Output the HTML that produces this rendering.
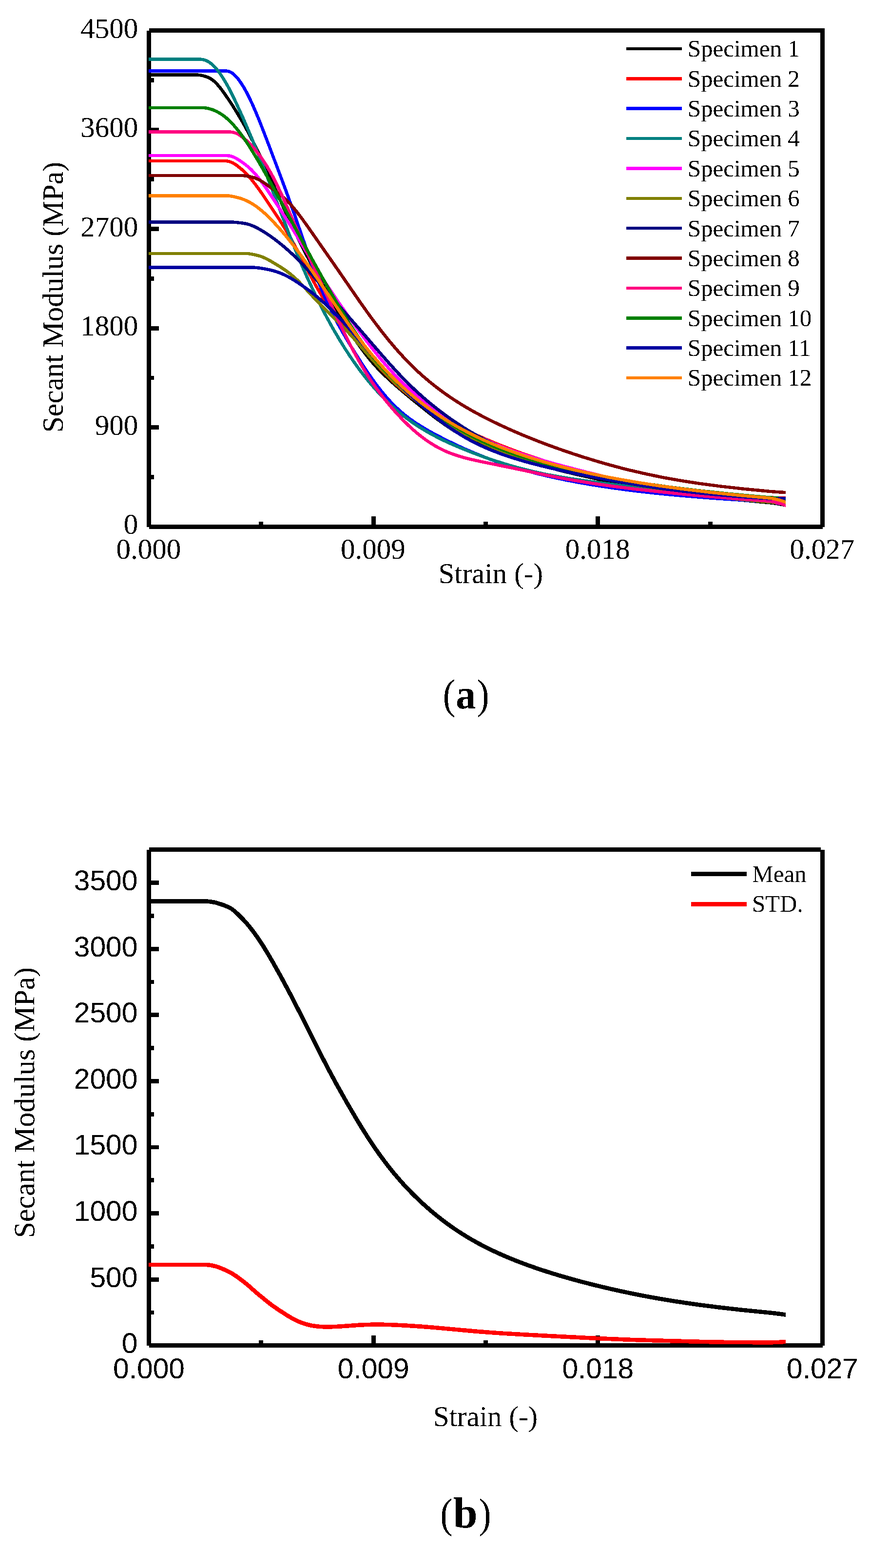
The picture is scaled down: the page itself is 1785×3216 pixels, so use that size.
<!DOCTYPE html>
<html lang="en">
<head>
<meta charset="utf-8">
<title>Secant modulus versus strain</title>
<style>
html,body{margin:0;padding:0;background:#fff;}
body{width:1785px;height:3216px;overflow:hidden;}
svg{display:block;}
</style>
</head>
<body>
<svg width="1785" height="3216" viewBox="0 0 1785 3216" shape-rendering="crispEdges" text-rendering="geometricPrecision">
<defs><filter id="bin" x="-5%" y="-20%" width="110%" height="140%" color-interpolation-filters="sRGB"><feComponentTransfer><feFuncA type="discrete" tableValues="0 1"/></feComponentTransfer></filter></defs>
<rect x="0" y="0" width="1785" height="3216" fill="#fff"/>
<g id="axes-a">
<rect x="301.10" y="62.50" width="8.80" height="1018.30" fill="#000"/>
<rect x="305.50" y="58.10" width="1386.40" height="8.80" fill="#000"/>
<rect x="1683.10" y="58.10" width="8.80" height="1022.70" fill="#000"/>
<rect x="305.50" y="1075.90" width="1382.30" height="8.80" fill="#000"/>
<rect x="305.50" y="1075.90" width="20.50" height="8.80" fill="#000"/>
<text x="283.30" y="1095.30" font-family='"Liberation Serif", "DejaVu Serif", serif' font-size="59.0" text-anchor="end" font-weight="normal" filter="url(#bin)" >0</text>
<rect x="305.50" y="974.12" width="10.50" height="8.80" fill="#000"/>
<rect x="305.50" y="872.34" width="20.50" height="8.80" fill="#000"/>
<text x="283.30" y="891.74" font-family='"Liberation Serif", "DejaVu Serif", serif' font-size="59.0" text-anchor="end" font-weight="normal" filter="url(#bin)" >900</text>
<rect x="305.50" y="770.56" width="10.50" height="8.80" fill="#000"/>
<rect x="305.50" y="668.78" width="20.50" height="8.80" fill="#000"/>
<text x="283.30" y="688.18" font-family='"Liberation Serif", "DejaVu Serif", serif' font-size="59.0" text-anchor="end" font-weight="normal" filter="url(#bin)" >1800</text>
<rect x="305.50" y="567.00" width="10.50" height="8.80" fill="#000"/>
<rect x="305.50" y="465.22" width="20.50" height="8.80" fill="#000"/>
<text x="283.30" y="484.62" font-family='"Liberation Serif", "DejaVu Serif", serif' font-size="59.0" text-anchor="end" font-weight="normal" filter="url(#bin)" >2700</text>
<rect x="305.50" y="363.44" width="10.50" height="8.80" fill="#000"/>
<rect x="305.50" y="261.66" width="20.50" height="8.80" fill="#000"/>
<text x="283.30" y="281.06" font-family='"Liberation Serif", "DejaVu Serif", serif' font-size="59.0" text-anchor="end" font-weight="normal" filter="url(#bin)" >3600</text>
<rect x="305.50" y="159.88" width="10.50" height="8.80" fill="#000"/>
<rect x="305.50" y="58.10" width="20.50" height="8.80" fill="#000"/>
<text x="283.30" y="77.50" font-family='"Liberation Serif", "DejaVu Serif", serif' font-size="59.0" text-anchor="end" font-weight="normal" filter="url(#bin)" >4500</text>
<rect x="301.10" y="1059.30" width="8.80" height="21.00" fill="#000"/>
<text x="304.80" y="1146.00" font-family='"Liberation Serif", "DejaVu Serif", serif' font-size="59.0" text-anchor="middle" font-weight="normal" filter="url(#bin)" >0.000</text>
<rect x="531.43" y="1069.80" width="8.80" height="10.50" fill="#000"/>
<rect x="761.77" y="1059.30" width="8.80" height="21.00" fill="#000"/>
<text x="765.47" y="1146.00" font-family='"Liberation Serif", "DejaVu Serif", serif' font-size="59.0" text-anchor="middle" font-weight="normal" filter="url(#bin)" >0.009</text>
<rect x="992.10" y="1069.80" width="8.80" height="10.50" fill="#000"/>
<rect x="1222.43" y="1059.30" width="8.80" height="21.00" fill="#000"/>
<text x="1226.13" y="1146.00" font-family='"Liberation Serif", "DejaVu Serif", serif' font-size="59.0" text-anchor="middle" font-weight="normal" filter="url(#bin)" >0.018</text>
<rect x="1452.77" y="1069.80" width="8.80" height="10.50" fill="#000"/>
<rect x="1683.10" y="1059.30" width="8.80" height="21.00" fill="#000"/>
<text x="1686.80" y="1146.00" font-family='"Liberation Serif", "DejaVu Serif", serif' font-size="59.0" text-anchor="middle" font-weight="normal" filter="url(#bin)" >0.027</text>
</g>
<g id="curves-a">
<path d="M305.0,156.8 404.8,156.7 409.5,157.2 415.2,158.4 421.0,160.0 425.7,161.8 430.4,164.2 434.1,166.6 437.8,169.7 441.7,173.4 446.5,178.8 452.4,186.2 459.3,195.8 467.3,207.5 475.3,219.6 483.2,232.4 490.2,244.0 498.2,257.8 505.1,270.5 519.1,297.3 534.1,328.1 549.0,360.5 578.0,425.5 591.1,454.1 605.1,483.7 619.1,511.6 632.1,536.3 646.2,562.0 664.2,594.2 687.2,634.8 698.2,653.8 708.2,670.5 717.3,685.0 726.3,698.9 734.3,710.6 742.4,721.7 750.5,732.1 757.5,740.8 765.6,750.1 773.6,758.8 782.7,768.0 792.8,777.7 805.8,789.7 820.9,802.7 837.9,817.0 861.0,835.7 876.0,847.7 890.0,858.5 903.1,868.1 916.2,877.2 929.3,885.8 941.3,893.2 953.4,900.1 965.5,906.6 977.6,912.5 990.7,918.5 1003.8,923.9 1017.9,929.4 1032.9,934.8 1050.0,940.5 1068.1,946.1 1087.1,951.7 1109.1,957.8 1134.2,964.4 1158.2,970.5 1182.3,976.3 1225.3,985.9 1268.4,994.5 1312.5,1002.3 1358.5,1009.6 1408.6,1016.5 1461.6,1022.9 1514.7,1028.5 1583.6,1034.8 1597.4,1036.9 1611.6,1039.7 1611.6,1033.4 1598.6,1030.5 1584.4,1028.4 1515.3,1022.0 1462.4,1016.4 1409.4,1010.1 1359.5,1003.2 1313.5,995.9 1269.6,988.1 1226.7,979.5 1183.7,969.9 1159.8,964.2 1135.8,958.1 1110.9,951.5 1088.9,945.4 1069.9,939.9 1052.0,934.3 1035.1,928.6 1020.1,923.3 1006.2,917.9 993.3,912.5 980.4,906.7 968.5,900.8 956.6,894.5 944.7,887.6 932.7,880.3 919.8,871.8 906.9,862.8 894.0,853.3 880.0,842.6 865.0,830.7 842.1,812.0 825.1,797.8 810.2,784.8 797.2,773.0 787.3,763.4 778.4,754.3 770.4,745.7 762.5,736.6 755.5,728.1 747.6,717.8 739.7,706.8 731.7,695.2 722.7,681.5 713.8,667.1 703.8,650.5 692.8,631.6 669.8,591.0 651.8,558.8 637.9,533.2 624.9,508.6 610.9,480.8 596.9,451.4 584.0,422.9 555.0,357.8 539.9,325.3 524.9,294.4 510.9,267.4 503.8,254.6 495.8,240.7 488.8,229.0 480.7,216.1 472.7,203.8 464.7,192.1 457.6,182.3 451.5,174.6 446.3,168.9 442.2,164.8 437.9,161.4 433.6,158.5 428.3,155.8 423.0,153.8 416.8,152.1 410.5,150.8 405.2,150.3 305.0,150.2Z" fill="#000000"/>
<path d="M305.0,333.2 463.8,333.3 466.4,333.7 470.1,334.6 472.8,335.5 476.5,337.3 480.3,339.4 484.1,342.0 491.9,348.2 498.7,354.4 506.6,362.5 513.5,370.4 521.4,380.3 529.4,391.1 537.3,402.4 563.3,441.3 573.3,456.8 581.2,469.5 589.2,482.8 597.2,496.6 609.1,518.6 631.1,561.0 640.1,578.1 649.2,594.4 658.2,609.8 668.3,625.5 678.4,639.9 689.4,654.5 703.5,671.8 752.5,729.4 773.6,753.3 784.6,765.2 795.7,776.5 805.8,786.4 815.8,795.6 827.9,806.0 840.0,815.7 853.1,825.5 866.2,834.6 880.3,843.8 895.3,853.1 911.4,862.5 928.5,871.8 944.5,880.1 960.6,887.9 977.7,895.9 995.7,903.9 1013.8,911.5 1032.8,919.1 1051.9,926.3 1070.9,933.2 1091.0,940.1 1111.0,946.7 1132.1,953.2 1153.1,959.4 1175.2,965.5 1197.2,971.3 1218.2,976.5 1239.3,981.4 1258.3,985.5 1278.4,989.6 1297.4,993.2 1317.5,996.7 1337.5,999.9 1358.5,1003.0 1379.6,1005.8 1400.6,1008.4 1425.7,1011.2 1452.7,1013.9 1480.7,1016.4 1511.8,1018.9 1579.8,1023.7 1595.9,1024.4 1611.6,1024.8 1611.6,1018.3 1596.1,1017.9 1580.2,1017.2 1512.2,1012.4 1481.3,1009.9 1453.3,1007.4 1426.3,1004.7 1401.4,1001.9 1380.4,999.4 1359.5,996.6 1338.5,993.5 1318.5,990.3 1298.6,986.8 1279.6,983.2 1259.7,979.2 1240.7,975.0 1219.8,970.2 1198.8,965.0 1176.8,959.2 1154.9,953.1 1133.9,947.0 1113.0,940.5 1093.0,933.9 1073.1,927.1 1054.1,920.2 1035.2,913.0 1016.2,905.4 998.3,897.9 980.3,890.0 963.4,882.1 947.5,874.3 931.5,866.0 914.6,856.8 898.7,847.6 883.7,838.4 869.8,829.2 856.9,820.2 844.0,810.5 832.1,801.0 820.2,790.8 810.2,781.6 800.3,772.0 789.4,760.7 778.4,748.9 757.5,725.1 708.5,667.7 694.6,650.5 683.6,636.1 673.7,621.9 663.8,606.4 654.8,591.2 645.9,575.0 636.9,558.0 614.9,515.6 602.8,493.4 594.8,479.5 586.8,466.1 578.7,453.3 568.7,437.8 542.7,398.8 534.6,387.3 526.6,376.4 518.5,366.2 511.4,358.1 503.3,349.7 496.1,343.2 487.9,336.7 483.7,333.9 479.5,331.5 475.2,329.5 471.9,328.4 467.6,327.3 464.2,326.9 305.0,326.8Z" fill="#ff0000"/>
<path d="M305.0,148.7 464.7,148.8 467.2,149.3 469.8,150.1 472.4,151.3 475.1,153.0 477.9,155.2 480.7,157.8 483.5,160.9 487.4,165.7 492.3,172.7 497.2,180.6 502.1,189.3 507.1,198.8 512.1,209.1 517.0,220.0 523.0,233.9 529.0,248.5 537.0,268.8 547.0,294.8 571.0,358.2 584.9,395.9 600.9,440.5 629.9,524.2 637.9,546.5 645.0,565.3 654.0,588.2 663.0,609.6 672.1,629.4 682.1,649.7 691.1,666.8 701.2,684.8 712.2,703.6 724.2,723.2 738.3,745.3 750.3,763.6 761.4,779.6 772.4,794.7 782.5,807.5 791.6,818.1 800.6,828.1 809.7,837.2 818.9,845.6 828.0,853.2 838.1,861.0 849.2,868.8 862.3,877.3 876.4,885.7 892.5,894.6 910.5,903.9 929.6,913.3 948.7,922.1 967.7,930.4 986.8,938.2 1004.9,945.1 1022.9,951.5 1041.0,957.4 1060.1,963.3 1079.1,968.7 1099.2,974.0 1120.3,979.1 1141.3,983.8 1163.4,988.3 1186.4,992.7 1210.5,996.9 1235.5,1000.9 1261.6,1004.7 1287.6,1008.2 1314.6,1011.5 1342.7,1014.6 1373.7,1017.7 1406.7,1020.6 1441.7,1023.5 1478.8,1026.2 1525.8,1029.3 1576.8,1032.3 1593.9,1033.0 1611.6,1033.3 1611.6,1026.8 1594.1,1026.5 1577.2,1025.8 1526.2,1022.8 1479.2,1019.7 1442.3,1017.0 1407.3,1014.2 1374.3,1011.2 1343.3,1008.1 1315.4,1005.0 1288.4,1001.7 1262.4,998.3 1236.5,994.5 1211.5,990.5 1187.6,986.3 1164.6,982.0 1142.7,977.4 1121.7,972.7 1100.8,967.6 1080.9,962.4 1061.9,957.0 1043.0,951.2 1025.1,945.3 1007.1,939.0 989.2,932.2 970.3,924.4 951.3,916.2 932.4,907.4 913.5,898.1 895.5,888.8 879.6,880.1 865.7,871.8 852.8,863.5 841.9,855.8 832.0,848.2 823.1,840.7 814.3,832.5 805.4,823.6 796.4,813.8 787.5,803.3 777.6,790.8 766.6,775.9 755.7,760.0 743.7,741.8 729.8,719.8 717.8,700.2 706.8,681.5 696.9,663.7 687.9,646.7 677.9,626.6 669.0,607.0 660.0,585.8 651.0,563.0 644.1,544.3 636.1,522.1 607.1,438.3 591.1,393.7 577.0,355.9 553.0,292.5 543.0,266.4 535.0,246.1 529.0,231.4 523.0,217.4 517.9,206.3 512.9,195.9 507.9,186.2 502.8,177.2 497.7,169.1 492.6,161.8 488.5,156.7 485.3,153.3 482.1,150.3 478.9,147.7 475.6,145.6 472.2,144.0 468.8,142.9 465.3,142.4 305.0,142.3Z" fill="#0000ff"/>
<path d="M305.0,124.7 408.9,124.8 412.7,124.9 415.4,125.3 419.9,126.5 423.6,128.0 427.2,130.2 431.0,132.9 434.8,136.2 438.6,140.1 442.5,144.5 447.4,150.8 452.3,157.9 457.2,165.7 462.2,174.1 468.1,185.1 474.1,196.7 480.1,209.0 494.0,239.6 504.0,262.6 514.0,286.1 533.0,332.5 550.0,375.9 589.0,478.3 601.0,508.6 613.0,537.6 628.0,572.0 643.1,604.1 658.1,634.3 666.1,649.6 674.2,664.4 684.2,682.1 694.2,699.1 704.3,715.3 714.3,730.8 724.3,745.4 734.4,759.4 744.4,772.6 755.5,786.3 765.6,798.0 776.6,810.2 787.7,821.6 798.8,832.3 809.9,842.3 821.0,851.6 832.0,860.2 844.1,869.0 856.2,877.1 868.3,884.6 881.4,892.1 894.5,899.1 908.6,906.1 923.7,913.1 939.7,920.0 956.8,927.0 975.9,934.4 994.9,941.4 1014.0,947.9 1032.0,953.7 1050.1,959.1 1068.2,964.1 1086.2,968.6 1105.3,973.0 1120.4,976.2 1136.4,979.2 1153.5,982.2 1172.5,985.3 1214.6,991.4 1269.6,998.5 1383.6,1012.5 1448.6,1020.1 1503.7,1025.9 1539.7,1029.3 1585.7,1033.4 1611.6,1036.3 1611.6,1029.8 1586.3,1026.9 1540.3,1022.8 1504.3,1019.4 1449.4,1013.6 1384.4,1006.1 1270.4,992.0 1215.4,984.9 1173.5,978.9 1154.5,975.8 1137.6,972.8 1121.6,969.8 1106.7,966.7 1087.8,962.3 1069.8,957.8 1051.9,952.9 1034.0,947.5 1016.0,941.8 997.1,935.3 978.1,928.3 959.2,921.0 942.3,914.1 926.3,907.1 911.4,900.2 897.5,893.3 884.6,886.4 871.7,879.0 859.8,871.7 847.9,863.7 836.0,855.1 825.0,846.5 814.1,837.4 803.2,827.5 792.3,817.0 781.4,805.8 770.4,793.7 760.5,782.1 749.6,768.6 739.6,755.5 729.7,741.7 719.7,727.2 709.7,711.8 699.8,695.7 689.8,678.9 679.8,661.2 671.9,646.5 663.9,631.3 648.9,601.3 634.0,569.3 619.0,535.1 607.0,506.2 595.0,475.9 556.0,373.6 539.0,330.1 520.0,283.6 510.0,260.0 500.0,237.0 485.9,206.3 479.9,193.8 473.9,182.0 467.8,170.9 462.8,162.3 457.7,154.3 452.6,147.0 447.5,140.4 443.4,135.6 439.2,131.4 435.0,127.8 430.8,124.7 426.4,122.2 422.1,120.4 416.6,118.9 413.3,118.5 409.1,118.3 305.0,118.3Z" fill="#008080"/>
<path d="M305.0,322.2 461.9,322.2 468.6,322.6 472.3,323.2 475.9,324.3 479.6,325.8 483.4,327.9 489.2,331.5 496.1,336.2 502.0,340.6 506.9,344.6 511.8,349.0 515.7,352.8 523.5,361.5 532.4,372.7 543.3,387.9 563.3,417.7 586.3,453.4 605.2,483.9 637.2,536.9 651.2,559.8 666.3,583.5 681.3,606.3 693.3,624.0 706.3,642.6 720.4,662.2 734.4,681.4 747.4,698.8 758.4,713.2 769.5,727.2 779.5,739.4 789.6,751.2 799.6,762.4 809.7,773.1 818.7,782.3 828.8,792.0 838.8,801.2 848.9,810.0 859.9,819.3 872.0,828.8 884.1,838.0 897.1,847.4 910.2,856.4 923.2,865.0 936.3,873.2 949.4,881.0 962.4,888.4 974.5,894.9 987.6,901.4 1000.6,907.6 1013.7,913.4 1026.8,918.9 1039.9,923.9 1053.9,929.0 1069.0,934.1 1086.0,939.5 1104.1,945.0 1124.1,950.7 1146.2,956.8 1202.2,971.4 1227.2,977.5 1250.3,983.0 1287.3,991.2 1324.4,998.7 1361.4,1005.4 1398.5,1011.4 1439.6,1017.3 1483.6,1022.9 1526.7,1027.7 1584.6,1033.6 1597.4,1035.5 1611.6,1038.2 1611.6,1031.8 1598.6,1029.1 1585.4,1027.1 1527.3,1021.3 1484.4,1016.4 1440.4,1010.9 1399.5,1005.0 1362.6,999.0 1325.6,992.3 1288.7,984.8 1251.7,976.7 1228.8,971.2 1203.8,965.1 1147.8,950.5 1125.9,944.5 1105.9,938.7 1088.0,933.3 1071.0,927.9 1056.1,922.9 1042.1,917.8 1029.2,912.8 1016.3,907.5 1003.4,901.7 990.4,895.6 977.5,889.1 965.6,882.7 952.6,875.4 939.7,867.7 926.8,859.5 913.8,851.0 900.9,842.1 887.9,832.7 876.0,823.7 864.1,814.2 853.1,805.1 843.2,796.4 833.2,787.3 823.3,777.7 814.3,768.6 804.4,758.0 794.4,746.9 784.5,735.2 774.5,723.1 763.6,709.2 752.6,694.9 739.6,677.5 725.6,658.4 711.7,638.8 698.7,620.3 686.7,602.7 671.7,580.0 656.8,556.3 642.8,533.5 610.8,480.5 591.7,449.9 568.7,414.2 548.7,384.2 537.6,368.7 528.5,357.3 520.3,348.3 516.2,344.2 511.1,339.6 506.0,335.5 499.9,330.9 492.8,326.0 486.6,322.2 482.4,320.0 478.1,318.2 473.7,316.9 469.4,316.1 462.1,315.8 305.0,315.8Z" fill="#ff00ff"/>
<path d="M305.0,523.2 507.8,523.2 512.5,523.9 521.3,525.6 527.2,527.0 532.0,528.3 535.9,529.6 540.7,531.6 545.5,533.9 551.4,537.0 570.3,548.2 577.2,552.7 584.1,557.3 590.0,561.7 595.9,566.3 601.8,571.4 607.7,576.9 619.6,589.0 643.6,615.0 653.7,625.6 664.7,636.6 692.7,663.8 708.6,680.1 723.6,696.5 762.6,741.0 773.6,753.1 783.7,763.6 796.7,776.6 809.8,788.9 824.9,802.2 839.9,814.9 852.0,824.6 864.0,834.0 876.1,843.1 887.1,851.2 899.2,859.6 910.2,867.0 921.3,874.1 932.3,880.9 943.4,887.4 954.4,893.6 965.5,899.5 977.6,905.6 989.6,911.3 1001.7,916.8 1013.8,921.9 1026.8,927.2 1050.9,936.2 1077.0,944.9 1105.1,953.2 1135.2,961.3 1170.3,969.9 1210.3,978.9 1254.4,988.2 1296.4,996.4 1332.5,1002.8 1368.5,1008.6 1404.6,1013.9 1441.6,1018.8 1480.6,1023.5 1521.7,1027.8 1565.7,1031.9 1611.6,1035.7 1611.6,1029.3 1566.3,1025.4 1522.3,1021.3 1481.4,1017.0 1442.4,1012.4 1405.4,1007.5 1369.5,1002.2 1333.5,996.4 1297.6,990.0 1255.6,981.8 1211.7,972.6 1171.7,963.6 1136.8,955.0 1106.9,947.0 1079.0,938.7 1053.1,930.0 1029.2,921.1 1016.2,915.9 1004.3,910.8 992.4,905.4 980.4,899.7 968.5,893.7 957.6,887.9 946.6,881.8 935.7,875.4 924.7,868.6 913.8,861.6 902.8,854.2 890.9,845.9 879.9,837.9 868.0,828.9 856.0,819.5 844.1,809.9 829.1,797.3 814.2,784.1 801.3,771.9 788.3,759.1 778.4,748.7 767.4,736.7 728.4,692.2 713.4,675.7 697.3,659.2 669.3,632.0 658.3,621.0 648.4,610.6 624.4,584.5 612.3,572.2 606.2,566.5 600.1,561.3 594.0,556.5 587.9,552.0 580.8,547.2 573.7,542.7 554.6,531.3 548.5,528.1 543.3,525.6 538.1,523.5 534.0,522.1 528.8,520.7 522.7,519.3 513.5,517.5 508.2,516.8 305.0,516.8Z" fill="#808000"/>
<path d="M305.0,458.8 476.9,458.7 481.7,459.1 493.6,460.3 500.4,461.3 506.2,462.5 511.9,464.2 518.7,466.9 525.5,470.1 533.4,474.5 542.3,479.9 551.2,485.8 561.1,492.9 570.0,499.8 579.9,507.9 589.8,516.5 598.8,524.7 608.7,534.3 617.7,543.4 627.6,554.1 639.6,567.5 683.5,618.7 737.6,679.9 780.6,729.7 798.6,750.2 813.6,766.6 827.7,781.2 840.7,794.2 854.8,807.4 864.9,816.4 874.9,825.0 885.0,833.3 895.0,841.3 905.0,849.0 916.1,857.2 927.2,865.0 938.2,872.5 949.3,879.6 959.3,885.8 970.4,892.4 981.4,898.6 991.5,903.9 1002.6,909.5 1013.6,914.8 1024.7,919.7 1035.8,924.4 1047.8,929.1 1059.9,933.6 1072.0,937.7 1086.0,942.3 1100.1,946.6 1131.2,955.3 1173.2,966.0 1223.3,977.8 1264.3,986.7 1303.4,994.3 1337.5,1000.1 1372.5,1005.5 1407.6,1010.2 1444.7,1014.5 1494.7,1019.4 1550.7,1024.1 1585.8,1026.6 1598.9,1027.1 1611.6,1027.3 1611.6,1020.8 1599.1,1020.6 1586.2,1020.1 1551.3,1017.6 1495.3,1012.9 1445.3,1008.0 1408.4,1003.7 1373.5,999.1 1338.5,993.7 1304.6,987.9 1265.7,980.3 1224.7,971.4 1174.8,959.7 1132.8,949.0 1101.9,940.3 1088.0,936.1 1074.0,931.6 1062.1,927.4 1050.2,923.1 1038.2,918.4 1027.3,913.8 1016.4,908.9 1005.4,903.7 994.5,898.1 984.6,892.9 973.6,886.7 962.7,880.3 952.7,874.1 941.8,867.0 930.8,859.6 919.9,851.9 909.0,843.8 899.0,836.2 889.0,828.3 879.1,820.1 869.1,811.5 859.2,802.6 845.3,789.5 832.3,776.7 818.4,762.2 803.4,745.8 785.4,725.4 742.4,675.6 688.5,614.4 644.4,563.2 632.4,549.7 622.3,538.9 613.3,529.7 603.2,519.9 594.2,511.6 584.1,502.9 574.0,494.7 564.9,487.7 554.8,480.5 545.7,474.4 536.6,468.8 528.5,464.3 521.3,460.9 514.1,458.1 507.8,456.2 501.6,454.9 494.4,453.9 482.3,452.7 477.1,452.3 305.0,452.2Z" fill="#000080"/>
<path d="M305.0,363.2 495.9,363.2 499.7,363.5 507.5,364.6 514.3,365.9 520.0,367.5 525.7,369.6 530.5,371.9 536.3,375.3 542.2,379.2 553.1,387.0 563.1,394.3 571.0,400.3 577.9,406.1 583.8,411.4 589.7,417.2 595.6,423.6 601.5,430.5 607.4,437.8 617.4,450.9 630.3,469.0 684.3,546.3 734.3,618.9 748.4,638.7 760.4,655.3 777.4,677.9 794.5,699.4 811.6,719.5 827.6,737.1 836.7,746.5 846.7,756.5 855.8,765.0 865.9,774.1 875.9,782.7 886.0,790.9 896.0,798.8 907.1,807.0 918.2,814.8 929.2,822.2 940.3,829.3 952.3,836.7 964.4,843.7 977.5,850.9 990.5,857.8 1003.6,864.5 1018.6,871.8 1034.7,879.2 1051.7,886.9 1068.7,894.2 1085.8,901.2 1103.8,908.3 1121.9,915.2 1139.9,921.8 1158.9,928.4 1178.0,934.8 1197.0,941.0 1217.1,947.1 1236.1,952.8 1255.1,958.1 1274.2,963.2 1292.2,967.7 1326.3,975.6 1361.4,982.8 1397.5,989.2 1434.5,994.9 1478.6,1000.7 1526.7,1006.1 1579.7,1011.2 1595.8,1012.4 1611.6,1013.3 1611.6,1006.8 1596.2,1005.9 1580.3,1004.7 1527.3,999.6 1479.4,994.3 1435.5,988.5 1398.5,982.8 1362.6,976.4 1327.7,969.2 1293.8,961.4 1275.8,956.9 1256.9,951.8 1237.9,946.5 1218.9,940.9 1199.0,934.8 1180.0,928.7 1161.1,922.3 1142.1,915.6 1124.1,909.1 1106.2,902.3 1088.2,895.1 1071.3,888.2 1054.3,880.9 1037.3,873.3 1021.4,865.9 1006.4,858.6 993.5,852.1 980.5,845.2 967.6,838.0 955.7,831.1 943.7,823.8 932.8,816.8 921.8,809.4 910.9,801.7 900.0,793.6 890.0,785.9 880.1,777.7 870.1,769.2 860.2,760.3 851.3,751.8 841.3,742.0 832.4,732.7 816.4,715.2 799.5,695.2 782.6,673.9 765.6,651.4 753.6,634.9 739.7,615.1 689.7,542.6 635.7,465.3 622.6,447.1 612.6,433.8 606.5,426.3 600.4,419.2 594.3,412.7 588.2,406.7 582.1,401.2 575.0,395.3 566.9,389.1 556.9,381.7 545.8,373.9 539.7,369.8 533.5,366.2 528.3,363.7 522.0,361.3 515.7,359.6 508.5,358.2 500.3,357.1 496.1,356.8 305.0,356.8Z" fill="#800000"/>
<path d="M305.0,273.7 468.9,273.8 472.8,273.9 475.5,274.2 480.1,275.2 483.7,276.5 487.4,278.4 492.1,281.5 497.0,285.1 502.8,290.1 508.7,295.7 514.6,301.8 521.5,309.7 527.4,317.2 533.3,325.2 539.3,333.9 545.2,343.3 551.2,353.4 557.1,364.2 563.1,375.8 571.1,392.2 580.0,411.8 611.0,482.9 627.0,518.7 682.0,638.7 694.1,664.6 708.1,693.7 720.1,717.3 732.2,739.4 744.2,760.0 752.3,772.9 760.3,785.0 768.4,796.6 777.4,809.0 786.5,820.6 795.5,831.7 804.6,842.3 814.6,853.4 824.7,863.9 833.7,872.9 843.8,882.3 852.9,890.2 862.0,897.6 871.1,904.4 880.2,910.6 890.4,916.9 898.5,921.4 906.6,925.5 914.7,929.2 922.8,932.5 931.9,935.8 941.1,938.8 951.1,941.7 961.2,944.3 986.3,950.0 1041.3,961.1 1118.4,977.3 1151.4,983.7 1181.5,989.1 1218.5,995.1 1259.6,1000.9 1303.6,1006.4 1351.7,1011.7 1404.7,1017.0 1458.7,1021.9 1510.8,1026.1 1579.6,1031.1 1587.4,1032.4 1595.1,1034.3 1602.9,1036.8 1611.6,1039.9 1611.6,1033.9 1605.1,1030.7 1596.9,1028.0 1588.6,1026.0 1580.4,1024.7 1511.2,1019.6 1459.3,1015.4 1405.3,1010.5 1352.3,1005.2 1304.4,999.9 1260.4,994.4 1219.5,988.6 1182.5,982.7 1152.6,977.4 1119.6,970.9 1042.7,954.7 987.7,943.6 962.8,938.0 952.9,935.4 942.9,932.6 934.1,929.7 925.2,926.5 917.3,923.3 909.4,919.7 901.5,915.7 893.6,911.3 883.8,905.1 874.9,899.1 866.0,892.4 857.1,885.3 848.2,877.5 838.3,868.2 829.3,859.4 819.4,849.0 809.4,838.0 800.5,827.6 791.5,816.6 782.6,805.0 773.6,792.8 765.7,781.4 757.7,769.3 749.8,756.7 737.8,736.3 725.9,714.2 713.9,690.8 699.9,661.8 688.0,636.0 633.0,516.0 617.0,480.3 586.0,409.2 576.9,389.4 568.9,372.8 562.9,361.2 556.8,350.2 550.8,339.9 544.7,330.4 538.7,321.5 532.6,313.2 526.5,305.6 519.4,297.4 513.3,291.0 507.2,285.2 501.0,280.0 495.9,276.1 490.6,272.8 486.3,270.6 481.9,269.0 476.5,267.7 473.2,267.4 469.1,267.3 305.0,267.3Z" fill="#ff0080"/>
<path d="M305.0,224.2 416.9,224.2 419.7,224.4 423.4,224.9 429.1,226.2 435.9,228.4 442.6,231.3 448.3,234.4 455.1,238.8 460.9,243.3 466.8,248.4 472.7,254.2 478.6,260.7 484.5,267.7 490.4,275.3 496.3,283.5 502.3,292.1 509.3,302.7 523.2,325.3 536.2,347.6 552.2,376.1 574.1,416.2 638.2,534.2 657.2,568.5 675.2,600.3 695.2,634.4 713.3,663.7 729.3,688.3 737.3,699.9 745.4,711.1 754.4,723.1 763.5,734.5 772.5,745.3 781.6,755.6 791.7,766.3 801.7,776.5 811.8,786.2 822.8,796.3 834.9,806.9 847.9,817.8 862.0,829.0 876.1,839.8 890.1,850.1 903.2,859.2 916.2,867.9 929.3,876.2 942.4,884.0 955.4,891.3 968.5,898.3 981.6,904.8 995.7,911.3 1009.7,917.5 1023.8,923.2 1038.9,929.0 1054.9,934.7 1071.0,940.1 1088.1,945.5 1106.1,950.7 1124.2,955.7 1143.2,960.6 1163.3,965.5 1183.3,970.0 1205.3,974.7 1227.4,979.0 1250.4,983.3 1273.5,987.4 1297.5,991.3 1322.5,995.1 1375.6,1002.5 1432.6,1009.5 1493.7,1016.0 1529.7,1019.4 1566.7,1022.7 1589.8,1024.5 1611.6,1025.9 1611.6,1019.4 1590.2,1018.0 1567.3,1016.2 1530.3,1012.9 1494.3,1009.5 1433.4,1003.0 1376.4,996.1 1323.5,988.7 1298.5,984.9 1274.5,980.9 1251.6,976.9 1228.6,972.7 1206.7,968.3 1184.7,963.6 1164.7,959.1 1144.8,954.3 1125.8,949.4 1107.9,944.5 1089.9,939.2 1073.0,933.9 1057.1,928.6 1041.1,922.9 1026.2,917.2 1012.3,911.5 998.3,905.4 984.4,898.9 971.5,892.5 958.6,885.6 945.6,878.3 932.7,870.6 919.8,862.5 906.8,853.9 893.9,844.8 879.9,834.6 866.0,823.9 852.1,812.8 839.1,801.9 827.2,791.5 816.2,781.4 806.3,771.9 796.3,761.8 786.4,751.2 777.5,741.1 768.5,730.4 759.6,719.1 750.6,707.2 742.7,696.2 734.7,684.6 718.7,660.3 700.8,631.1 680.8,597.0 662.8,565.3 643.8,531.1 579.9,413.1 557.8,372.9 541.8,344.3 528.8,321.9 514.7,299.2 507.7,288.5 501.7,279.7 495.6,271.4 489.5,263.6 483.4,256.4 477.3,249.7 471.2,243.7 465.1,238.2 458.9,233.5 451.7,228.8 445.4,225.4 438.1,222.3 430.9,220.0 424.6,218.6 420.3,218.0 417.1,217.8 305.0,217.8Z" fill="#008000"/>
<path d="M305.0,551.8 517.9,551.7 521.8,551.9 530.6,552.8 540.5,554.2 550.3,556.1 559.2,558.3 567.0,560.6 573.8,563.1 580.6,566.0 588.5,569.9 598.3,575.4 608.2,581.6 620.1,589.7 632.0,598.3 643.0,606.8 652.9,615.0 662.8,623.7 673.7,633.9 690.7,650.7 709.6,671.0 726.6,690.1 760.5,729.7 774.6,745.8 789.6,762.4 803.7,777.3 821.7,795.6 840.8,813.8 860.9,831.9 880.9,849.1 899.0,863.7 917.1,877.2 934.2,888.8 951.4,899.4 968.5,908.8 977.6,913.4 986.7,917.7 1005.8,926.0 1025.9,933.7 1038.0,937.9 1051.0,942.2 1078.1,950.3 1108.2,958.2 1141.3,966.1 1181.3,974.7 1226.4,983.5 1273.4,992.1 1316.5,999.3 1355.6,1005.0 1393.6,1009.9 1432.7,1014.3 1472.7,1018.1 1522.8,1022.2 1577.8,1025.9 1586.0,1026.1 1595.1,1026.1 1603.2,1025.8 1611.6,1025.1 1611.6,1018.7 1602.8,1019.3 1594.9,1019.6 1586.0,1019.6 1578.2,1019.4 1523.2,1015.7 1473.3,1011.7 1433.3,1007.9 1394.4,1003.5 1356.4,998.6 1317.5,992.8 1274.6,985.7 1227.6,977.2 1182.7,968.3 1142.7,959.7 1109.8,951.9 1079.9,944.0 1053.0,936.0 1040.0,931.8 1028.1,927.6 1008.2,920.0 989.3,911.8 980.4,907.6 971.5,903.1 954.6,893.8 937.8,883.4 920.9,871.9 903.0,858.5 885.1,844.1 865.1,827.1 845.2,809.0 826.3,790.9 808.3,772.8 794.4,758.0 779.4,741.4 765.5,725.4 731.4,685.8 714.4,666.6 695.3,646.2 678.3,629.2 667.2,618.9 657.1,610.1 647.0,601.7 636.0,593.1 623.9,584.4 611.8,576.2 601.7,569.8 591.5,564.1 583.4,560.1 576.2,557.0 569.0,554.4 560.8,552.0 551.7,549.8 541.5,547.8 531.4,546.3 522.2,545.4 518.1,545.3 305.0,545.2Z" fill="#0000a0"/>
<path d="M305.0,404.7 468.8,404.8 475.4,405.8 484.2,407.7 492.0,409.8 498.8,412.2 505.6,415.2 512.4,418.7 519.2,422.8 526.1,427.6 532.9,433.0 540.8,439.8 548.7,447.3 557.7,456.4 566.6,466.0 576.5,477.2 586.5,489.0 596.4,501.4 612.4,522.2 630.3,547.1 649.3,574.5 698.3,646.7 713.4,668.1 727.4,687.4 743.4,708.5 759.5,728.3 775.6,747.0 792.6,765.5 802.7,775.9 812.7,785.8 822.8,795.2 833.9,805.2 843.9,813.8 855.0,822.9 866.0,831.5 877.1,839.8 888.2,847.6 900.2,855.8 911.3,862.9 923.3,870.2 935.4,877.2 948.5,884.4 961.5,891.2 974.6,897.7 986.6,903.4 999.7,909.2 1012.8,914.8 1026.8,920.5 1040.9,925.9 1054.9,931.0 1070.0,936.3 1085.0,941.2 1116.1,950.7 1148.2,959.5 1182.3,968.0 1217.3,975.8 1249.4,982.3 1282.4,988.4 1316.5,994.2 1352.5,999.7 1403.6,1006.6 1457.6,1013.0 1512.7,1018.7 1579.6,1024.9 1587.4,1026.1 1595.2,1027.9 1603.0,1030.2 1611.6,1032.9 1611.6,1026.8 1605.0,1024.0 1596.8,1021.6 1588.6,1019.7 1580.4,1018.4 1513.3,1012.2 1458.4,1006.5 1404.4,1000.1 1353.5,993.2 1317.5,987.7 1283.6,982.0 1250.6,976.0 1218.7,969.5 1183.7,961.7 1149.8,953.3 1117.9,944.5 1087.0,935.0 1072.0,930.1 1057.1,924.9 1043.1,919.8 1029.2,914.4 1015.2,908.8 1002.3,903.3 989.4,897.5 977.4,891.8 964.5,885.4 951.5,878.7 938.6,871.6 926.7,864.7 914.7,857.4 903.8,850.3 891.8,842.3 880.9,834.5 870.0,826.4 859.0,817.8 848.1,808.8 838.1,800.3 827.2,790.4 817.3,781.1 807.3,771.3 797.4,761.1 780.4,742.7 764.5,724.2 748.6,704.5 732.6,683.6 718.6,664.4 703.7,643.0 654.7,570.8 635.7,543.3 617.6,518.3 601.6,497.4 591.5,484.9 581.5,473.0 571.4,461.6 562.3,451.9 553.3,442.6 545.2,435.0 537.1,428.0 529.9,422.4 522.8,417.4 515.6,413.0 508.4,409.3 501.2,406.2 494.0,403.6 485.8,401.4 476.6,399.4 469.2,398.3 305.0,398.3Z" fill="#ff8000"/>
</g>
<text x="899.45" y="1195.70" font-family='"Liberation Serif", "DejaVu Serif", serif' font-size="59.0" text-anchor="start" font-weight="normal" filter="url(#bin)" >Strain (-)</text>
<text transform="translate(128.80,887.53) rotate(-90)" font-family='"Liberation Serif", "DejaVu Serif", serif' font-size="60.3" textLength="555.7" lengthAdjust="spacing" filter="url(#bin)">Secant Modulus (MPa)</text>
<g id="legend-a">
<rect x="1285.00" y="96.75" width="114.00" height="6.50" fill="#000000"/>
<text x="1410.72" y="116.30" font-family='"Liberation Serif", "DejaVu Serif", serif' font-size="49" text-anchor="start" font-weight="normal" filter="url(#bin)" >Specimen 1</text>
<rect x="1285.00" y="158.12" width="114.00" height="6.50" fill="#ff0000"/>
<text x="1410.72" y="177.67" font-family='"Liberation Serif", "DejaVu Serif", serif' font-size="49" text-anchor="start" font-weight="normal" filter="url(#bin)" >Specimen 2</text>
<rect x="1285.00" y="219.49" width="114.00" height="6.50" fill="#0000ff"/>
<text x="1410.72" y="239.04" font-family='"Liberation Serif", "DejaVu Serif", serif' font-size="49" text-anchor="start" font-weight="normal" filter="url(#bin)" >Specimen 3</text>
<rect x="1285.00" y="280.86" width="114.00" height="6.50" fill="#008080"/>
<text x="1410.72" y="300.41" font-family='"Liberation Serif", "DejaVu Serif", serif' font-size="49" text-anchor="start" font-weight="normal" filter="url(#bin)" >Specimen 4</text>
<rect x="1285.00" y="342.23" width="114.00" height="6.50" fill="#ff00ff"/>
<text x="1410.72" y="361.78" font-family='"Liberation Serif", "DejaVu Serif", serif' font-size="49" text-anchor="start" font-weight="normal" filter="url(#bin)" >Specimen 5</text>
<rect x="1285.00" y="403.60" width="114.00" height="6.50" fill="#808000"/>
<text x="1410.72" y="423.15" font-family='"Liberation Serif", "DejaVu Serif", serif' font-size="49" text-anchor="start" font-weight="normal" filter="url(#bin)" >Specimen 6</text>
<rect x="1285.00" y="464.97" width="114.00" height="6.50" fill="#000080"/>
<text x="1410.72" y="484.52" font-family='"Liberation Serif", "DejaVu Serif", serif' font-size="49" text-anchor="start" font-weight="normal" filter="url(#bin)" >Specimen 7</text>
<rect x="1285.00" y="526.34" width="114.00" height="6.50" fill="#800000"/>
<text x="1410.72" y="545.89" font-family='"Liberation Serif", "DejaVu Serif", serif' font-size="49" text-anchor="start" font-weight="normal" filter="url(#bin)" >Specimen 8</text>
<rect x="1285.00" y="587.71" width="114.00" height="6.50" fill="#ff0080"/>
<text x="1410.72" y="607.26" font-family='"Liberation Serif", "DejaVu Serif", serif' font-size="49" text-anchor="start" font-weight="normal" filter="url(#bin)" >Specimen 9</text>
<rect x="1285.00" y="649.08" width="114.00" height="6.50" fill="#008000"/>
<text x="1410.72" y="668.63" font-family='"Liberation Serif", "DejaVu Serif", serif' font-size="49" text-anchor="start" font-weight="normal" filter="url(#bin)" >Specimen 10</text>
<rect x="1285.00" y="710.45" width="114.00" height="6.50" fill="#0000a0"/>
<text x="1410.72" y="730.00" font-family='"Liberation Serif", "DejaVu Serif", serif' font-size="49" text-anchor="start" font-weight="normal" filter="url(#bin)" >Specimen 11</text>
<rect x="1285.00" y="771.82" width="114.00" height="6.50" fill="#ff8000"/>
<text x="1410.72" y="791.37" font-family='"Liberation Serif", "DejaVu Serif", serif' font-size="49" text-anchor="start" font-weight="normal" filter="url(#bin)" >Specimen 12</text>
</g>
<text y="1453.40" font-family='"Liberation Serif", "DejaVu Serif", serif' font-size="86.0" filter="url(#bin)"><tspan x="908.67" textLength="25.20" lengthAdjust="spacingAndGlyphs">(</tspan><tspan x="935.17" font-size="86.0" font-weight="bold" textLength="40.85" lengthAdjust="spacingAndGlyphs">a</tspan><tspan x="978.42" textLength="25.20" lengthAdjust="spacingAndGlyphs">)</tspan></text>
<g id="axes-b">
<rect x="301.10" y="1742.80" width="8.80" height="1017.40" fill="#000"/>
<rect x="305.50" y="1738.40" width="1378.50" height="8.80" fill="#000"/>
<rect x="1683.10" y="1742.80" width="8.80" height="1017.40" fill="#000"/>
<rect x="305.50" y="2755.30" width="1382.30" height="8.80" fill="#000"/>
<rect x="305.50" y="2755.30" width="20.50" height="8.80" fill="#000"/>
<text x="282.40" y="2775.20" font-family='"Liberation Sans", "DejaVu Sans", sans-serif' font-size="58.7" text-anchor="end" font-weight="normal" filter="url(#bin)" >0</text>
<rect x="305.50" y="2687.51" width="10.50" height="8.80" fill="#000"/>
<rect x="305.50" y="2619.71" width="20.50" height="8.80" fill="#000"/>
<text x="282.40" y="2639.61" font-family='"Liberation Sans", "DejaVu Sans", sans-serif' font-size="58.7" text-anchor="end" font-weight="normal" filter="url(#bin)" >500</text>
<rect x="305.50" y="2551.92" width="10.50" height="8.80" fill="#000"/>
<rect x="305.50" y="2484.13" width="20.50" height="8.80" fill="#000"/>
<text x="282.40" y="2504.03" font-family='"Liberation Sans", "DejaVu Sans", sans-serif' font-size="58.7" text-anchor="end" font-weight="normal" filter="url(#bin)" >1000</text>
<rect x="305.50" y="2416.33" width="10.50" height="8.80" fill="#000"/>
<rect x="305.50" y="2348.54" width="20.50" height="8.80" fill="#000"/>
<text x="282.40" y="2368.44" font-family='"Liberation Sans", "DejaVu Sans", sans-serif' font-size="58.7" text-anchor="end" font-weight="normal" filter="url(#bin)" >1500</text>
<rect x="305.50" y="2280.75" width="10.50" height="8.80" fill="#000"/>
<rect x="305.50" y="2212.95" width="20.50" height="8.80" fill="#000"/>
<text x="282.40" y="2232.85" font-family='"Liberation Sans", "DejaVu Sans", sans-serif' font-size="58.7" text-anchor="end" font-weight="normal" filter="url(#bin)" >2000</text>
<rect x="305.50" y="2145.16" width="10.50" height="8.80" fill="#000"/>
<rect x="305.50" y="2077.37" width="20.50" height="8.80" fill="#000"/>
<text x="282.40" y="2097.27" font-family='"Liberation Sans", "DejaVu Sans", sans-serif' font-size="58.7" text-anchor="end" font-weight="normal" filter="url(#bin)" >2500</text>
<rect x="305.50" y="2009.57" width="10.50" height="8.80" fill="#000"/>
<rect x="305.50" y="1941.78" width="20.50" height="8.80" fill="#000"/>
<text x="282.40" y="1961.68" font-family='"Liberation Sans", "DejaVu Sans", sans-serif' font-size="58.7" text-anchor="end" font-weight="normal" filter="url(#bin)" >3000</text>
<rect x="305.50" y="1873.99" width="10.50" height="8.80" fill="#000"/>
<rect x="305.50" y="1806.19" width="20.50" height="8.80" fill="#000"/>
<text x="282.40" y="1826.09" font-family='"Liberation Sans", "DejaVu Sans", sans-serif' font-size="58.7" text-anchor="end" font-weight="normal" filter="url(#bin)" >3500</text>
<rect x="305.50" y="1738.40" width="10.50" height="8.80" fill="#000"/>
<rect x="301.10" y="2738.70" width="8.80" height="21.00" fill="#000"/>
<text x="305.50" y="2826.50" font-family='"Liberation Sans", "DejaVu Sans", sans-serif' font-size="58.7" text-anchor="middle" font-weight="normal" filter="url(#bin)" >0.000</text>
<rect x="531.43" y="2749.20" width="8.80" height="10.50" fill="#000"/>
<rect x="761.77" y="2738.70" width="8.80" height="21.00" fill="#000"/>
<text x="766.17" y="2826.50" font-family='"Liberation Sans", "DejaVu Sans", sans-serif' font-size="58.7" text-anchor="middle" font-weight="normal" filter="url(#bin)" >0.009</text>
<rect x="992.10" y="2749.20" width="8.80" height="10.50" fill="#000"/>
<rect x="1222.43" y="2738.70" width="8.80" height="21.00" fill="#000"/>
<text x="1226.83" y="2826.50" font-family='"Liberation Sans", "DejaVu Sans", sans-serif' font-size="58.7" text-anchor="middle" font-weight="normal" filter="url(#bin)" >0.018</text>
<rect x="1452.77" y="2749.20" width="8.80" height="10.50" fill="#000"/>
<rect x="1683.10" y="2738.70" width="8.80" height="21.00" fill="#000"/>
<text x="1687.50" y="2826.50" font-family='"Liberation Sans", "DejaVu Sans", sans-serif' font-size="58.7" text-anchor="middle" font-weight="normal" filter="url(#bin)" >0.027</text>
</g>
<g id="curves-b">
<path d="M305.0,1852.8 423.8,1852.8 430.4,1853.5 438.2,1854.8 441.0,1855.3 444.8,1856.4 457.5,1860.5 467.1,1864.6 472.7,1867.6 477.3,1871.1 483.1,1876.2 495.9,1889.0 502.8,1896.5 508.6,1903.5 517.6,1915.1 524.5,1924.7 531.4,1935.0 538.3,1945.9 546.3,1959.0 555.3,1974.3 572.2,2004.5 595.2,2047.4 633.2,2122.0 646.2,2148.4 658.2,2172.2 672.2,2199.0 686.2,2225.0 708.3,2264.2 729.3,2300.0 739.3,2316.5 749.4,2332.4 756.4,2343.3 766.5,2358.1 776.5,2372.4 785.6,2384.6 794.6,2396.3 804.7,2408.8 814.8,2420.7 824.8,2432.0 834.9,2442.8 846.0,2454.1 857.0,2464.8 869.1,2475.9 880.2,2485.7 892.3,2495.7 904.4,2505.3 916.5,2514.3 928.6,2522.8 940.7,2530.9 953.8,2539.2 966.9,2546.9 981.0,2554.8 995.1,2562.1 1009.2,2569.0 1024.2,2576.0 1040.3,2582.9 1056.4,2589.5 1073.5,2596.0 1090.6,2602.2 1108.6,2608.4 1127.7,2614.5 1147.8,2620.6 1167.8,2626.4 1188.9,2632.2 1210.9,2637.9 1232.0,2643.1 1253.0,2648.0 1274.1,2652.7 1296.1,2657.3 1318.2,2661.7 1340.2,2665.8 1362.3,2669.6 1385.3,2673.4 1427.4,2679.6 1472.5,2685.4 1523.5,2691.2 1585.5,2697.4 1598.4,2699.0 1611.6,2700.8 1611.6,2692.2 1599.6,2690.4 1586.5,2688.8 1524.5,2682.7 1473.5,2676.9 1428.6,2671.1 1386.7,2664.9 1363.7,2661.2 1341.8,2657.3 1319.8,2653.3 1297.9,2648.9 1275.9,2644.3 1255.0,2639.7 1234.0,2634.7 1213.1,2629.6 1191.1,2623.9 1170.2,2618.1 1150.2,2612.4 1130.3,2606.3 1111.4,2600.2 1093.4,2594.1 1076.5,2588.0 1059.6,2581.5 1043.7,2575.0 1027.8,2568.1 1012.8,2561.2 998.9,2554.4 985.0,2547.2 971.1,2539.5 958.2,2531.8 945.3,2523.7 933.4,2515.8 921.5,2507.3 909.6,2498.5 897.7,2489.1 885.8,2479.1 874.9,2469.6 863.0,2458.6 852.0,2448.0 841.1,2436.8 831.2,2426.2 821.2,2415.0 811.3,2403.3 801.4,2391.0 792.4,2379.4 783.5,2367.3 773.5,2353.2 763.6,2338.6 756.6,2327.8 746.7,2312.0 736.7,2295.6 715.7,2260.0 693.8,2220.9 679.8,2195.0 665.8,2168.2 653.8,2144.5 640.8,2118.1 602.8,2043.5 579.8,2000.4 562.7,1970.0 553.7,1954.6 545.7,1941.3 538.6,1930.3 531.5,1919.8 524.4,1909.9 515.4,1898.1 509.2,1890.8 502.1,1883.0 488.9,1869.9 482.7,1864.5 477.3,1860.4 470.9,1856.9 460.5,1852.4 447.2,1848.2 443.0,1847.0 439.8,1846.3 431.6,1845.0 424.2,1844.2 305.0,1844.2Z" fill="#000000"/>
<path d="M305.0,2598.3 423.7,2598.3 430.4,2599.1 435.2,2600.0 441.9,2601.5 445.6,2602.7 455.3,2606.6 467.1,2611.9 474.8,2616.1 482.5,2621.2 493.4,2629.2 502.3,2636.3 508.2,2641.2 523.2,2654.5 541.3,2669.4 554.4,2679.8 569.6,2690.4 588.8,2702.7 596.9,2707.4 604.1,2711.1 611.3,2714.5 618.5,2717.4 625.7,2719.8 633.0,2721.8 640.2,2723.3 647.5,2724.4 654.7,2725.1 661.8,2725.5 670.0,2725.7 679.1,2725.6 695.2,2725.0 734.3,2722.2 753.1,2721.2 775.0,2720.9 798.9,2721.3 830.8,2722.8 866.7,2725.2 900.6,2728.0 976.6,2735.0 1003.7,2737.1 1031.7,2739.0 1071.8,2741.4 1135.8,2744.8 1206.8,2748.4 1255.8,2750.6 1296.8,2752.3 1337.9,2753.5 1434.9,2756.1 1500.0,2757.4 1583.1,2757.6 1599.2,2757.1 1611.6,2756.1 1611.6,2747.5 1598.8,2748.5 1582.9,2749.0 1500.0,2748.8 1435.1,2747.5 1338.1,2744.9 1297.2,2743.7 1256.2,2742.0 1207.2,2739.8 1136.2,2736.2 1072.2,2732.8 1032.3,2730.5 1004.3,2728.5 977.4,2726.4 901.4,2719.5 867.3,2716.6 831.2,2714.2 799.1,2712.7 775.0,2712.3 752.9,2712.6 733.7,2713.6 694.8,2716.4 678.9,2717.0 670.0,2717.1 662.2,2716.9 655.3,2716.5 648.5,2715.8 641.8,2714.8 635.0,2713.4 628.3,2711.6 621.5,2709.3 614.7,2706.6 607.9,2703.4 601.1,2699.9 593.2,2695.3 574.4,2683.2 559.6,2672.9 546.7,2662.7 528.8,2648.0 513.8,2634.7 507.7,2629.6 498.6,2622.4 487.5,2614.1 479.2,2608.7 470.9,2604.2 458.7,2598.6 448.4,2594.6 444.1,2593.2 436.8,2591.5 431.6,2590.6 424.3,2589.7 305.0,2589.7Z" fill="#ff0000"/>
</g>
<text x="888.65" y="2925.00" font-family='"Liberation Serif", "DejaVu Serif", serif' font-size="59.0" text-anchor="start" font-weight="normal" filter="url(#bin)" >Strain (-)</text>
<text transform="translate(70.40,2539.43) rotate(-90)" font-family='"Liberation Serif", "DejaVu Serif", serif' font-size="60.3" textLength="555.7" lengthAdjust="spacing" filter="url(#bin)">Secant Modulus (MPa)</text>
<g id="legend-b">
<rect x="1418.00" y="1788.00" width="114.00" height="9.00" fill="#000"/>
<text x="1543.29" y="1808.90" font-family='"Liberation Serif", "DejaVu Serif", serif' font-size="49" text-anchor="start" font-weight="normal" filter="url(#bin)" >Mean</text>
<rect x="1418.00" y="1850.00" width="114.00" height="9.00" fill="#ff0000"/>
<text x="1542.92" y="1870.30" font-family='"Liberation Serif", "DejaVu Serif", serif' font-size="49" text-anchor="start" font-weight="normal" filter="url(#bin)" >STD.</text>
</g>
<text y="3133.00" font-family='"Liberation Serif", "DejaVu Serif", serif' font-size="86.0" filter="url(#bin)"><tspan x="903.27" textLength="25.20" lengthAdjust="spacingAndGlyphs">(</tspan><tspan x="929.96" font-size="89.5" font-weight="bold" textLength="49.78" lengthAdjust="spacingAndGlyphs">b</tspan><tspan x="982.42" textLength="25.20" lengthAdjust="spacingAndGlyphs">)</tspan></text>
</svg>
</body>
</html>
